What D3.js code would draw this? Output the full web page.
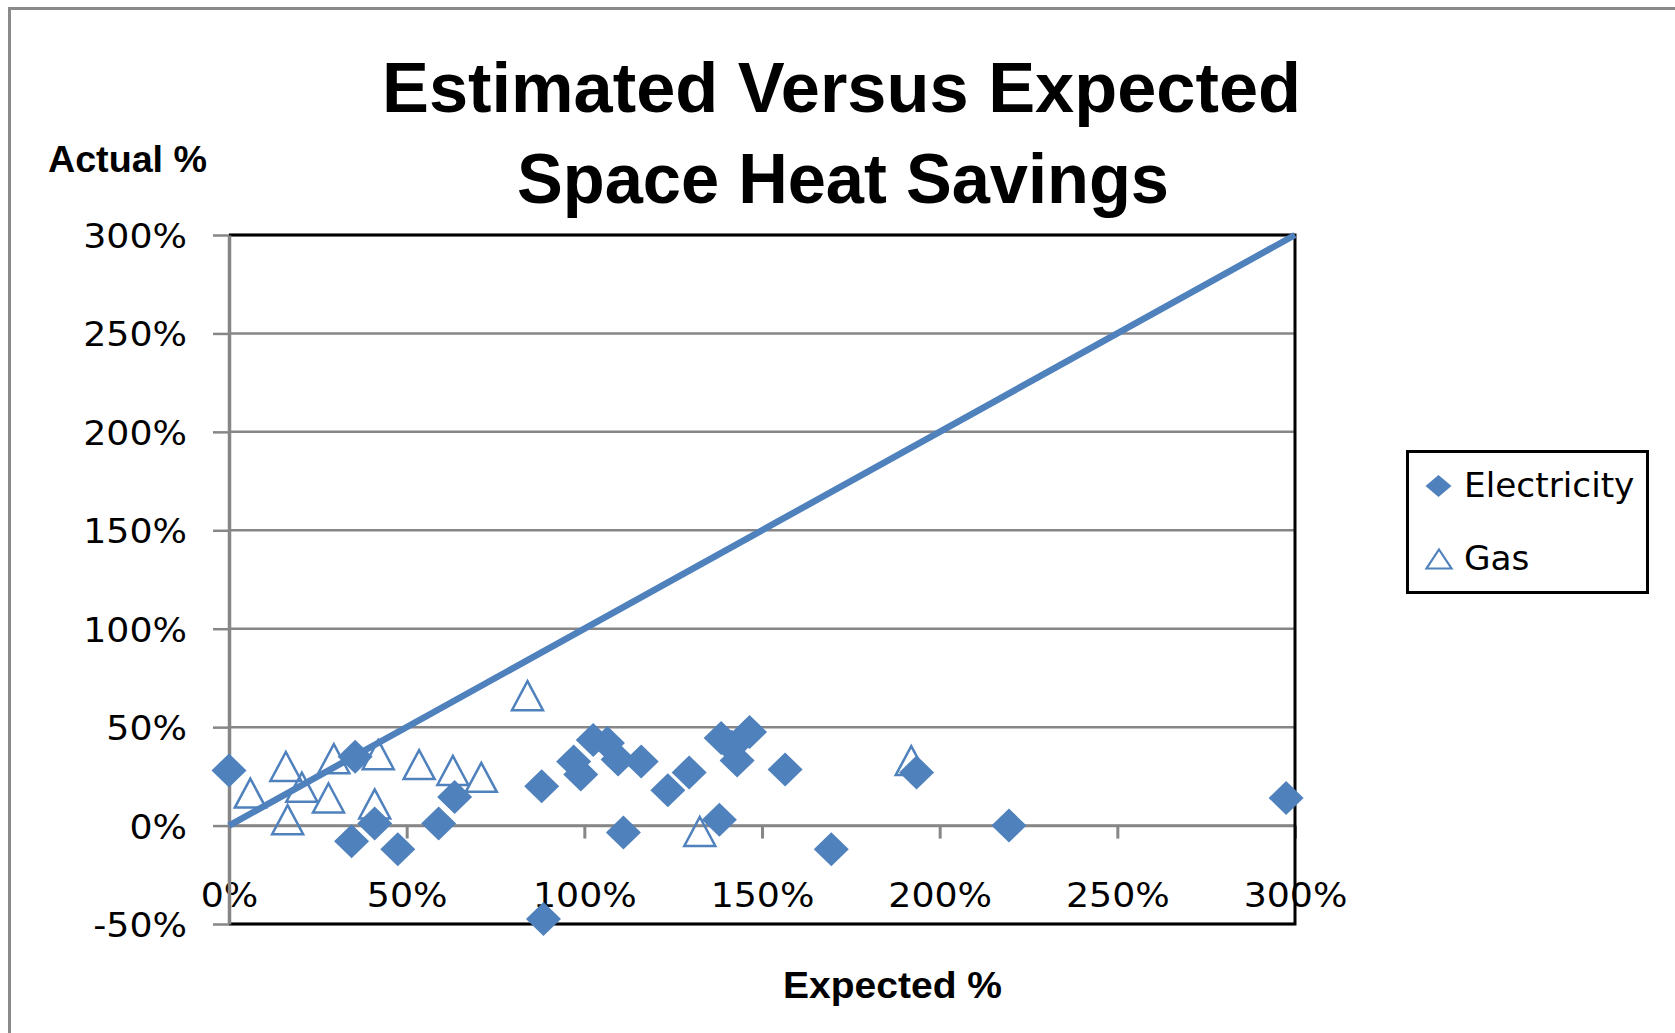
<!DOCTYPE html>
<html><head><meta charset="utf-8">
<script src="https://cdn.jsdelivr.net/npm/d3@7"></script>
<style>body{margin:0;background:#fff}svg{display:block}</style>
</head><body>
<script>
// ---- data ----
const titleLines = ["Estimated Versus Expected", "Space Heat Savings"];
const yTicks = [-50, 0, 50, 100, 150, 200, 250, 300];
const xTicks = [0, 50, 100, 150, 200, 250, 300];
const seriesNames = ["Electricity", "Gas"];
const elecX = [0, 35.5, 34.5, 41, 47.5, 59, 63.5, 88, 88.5, 97, 99, 102.5, 106.5, 109.5, 116, 111, 123.5, 129.5, 138, 138.5, 141.5, 143, 146.5, 156.5, 169.5, 193.5, 219.5, 297.5];
const elecY = [28, 35, -8, 1, -12, 1, 14.5, 20, -47.5, 32.5, 26, 43.5, 42, 33.5, 32.5, -3.5, 18, 27, 3, 44.5, 40, 33, 47.5, 28.5, -12, 27, 0, 14];
const gasX = [6, 16, 16.5, 20.5, 28, 29.5, 42, 41, 53.5, 63, 71, 84, 132.5, 192];
const gasY = [16.5, 30, 3, 19.5, 14, 34, 36, 11, 31, 28, 24.5, 66, -3, 33];
const refX = [0, 300];
const refY = [0, 300];

// ---- setup ----
const W = 1675, H = 1033;
const blue = "#4F81BD", gray = "#868686";
const svg = d3.select("body").append("svg").attr("width", W).attr("height", H);
svg.append("rect").attr("width", W).attr("height", H).attr("fill", "#fff");

const x = d3.scaleLinear().domain([0, 300]).range([229, 1295]);
const y = d3.scaleLinear().domain([-50, 300]).range([924, 235]);

// outer chart border (top + left visible)
svg.append("path").attr("d", `M9.5,${H} V8.5 H${W}`).attr("fill", "none")
  .attr("stroke", "#8a8a8a").attr("stroke-width", 3);

// titles
const titleY = [112, 203], titleLen = [919, 652], titleCx = [841.5, 843];
titleLines.forEach((t, i) => {
  svg.append("text").attr("x", titleCx[i]).attr("y", titleY[i])
    .attr("text-anchor", "middle")
    .attr("font-family", "'Liberation Sans', Arial, sans-serif")
    .attr("font-weight", "bold").attr("font-size", 70)
    .attr("textLength", titleLen[i]).attr("lengthAdjust", "spacingAndGlyphs")
    .text(t);
});

// axis titles
svg.append("text").attr("x", 48).attr("y", 172)
  .attr("font-family", "'Liberation Sans', Arial, sans-serif")
  .attr("font-weight", "bold").attr("font-size", 36)
  .attr("textLength", 159).attr("lengthAdjust", "spacingAndGlyphs")
  .text("Actual %");
svg.append("text").attr("x", 783).attr("y", 998)
  .attr("font-family", "'Liberation Sans', Arial, sans-serif")
  .attr("font-weight", "bold").attr("font-size", 36)
  .attr("textLength", 219).attr("lengthAdjust", "spacingAndGlyphs")
  .text("Expected %");

// gridlines
svg.append("g").selectAll("line").data(yTicks).join("line")
  .attr("x1", x(0)).attr("x2", x(300))
  .attr("y1", d => y(d)).attr("y2", d => y(d))
  .attr("stroke", gray).attr("stroke-width", 2.5);

const fmt = d => d + "%";
const sx = 1.1;

// x axis (crossing at 0)
const gx = svg.append("g").attr("transform", `translate(0,${y(0)})`)
  .call(d3.axisBottom(x).tickValues(xTicks).tickSize(13).tickSizeOuter(0).tickFormat(fmt));
gx.select(".domain").attr("stroke", gray).attr("stroke-width", 2.5);
gx.selectAll(".tick line").attr("stroke", gray).attr("stroke-width", 3);
gx.selectAll(".tick text").attr("y", 907 - y(0)).attr("dy", 0)
  .attr("font-family", "'DejaVu Sans', Verdana, sans-serif").attr("font-size", 33)
  .attr("fill", "#000").attr("transform", `scale(${sx},1)`);

// black plot frame (top, right, bottom)
svg.append("path")
  .attr("d", `M${x(0)},${y(300)} H${x(300)} V${y(-50)} H${x(0)}`)
  .attr("fill", "none").attr("stroke", "#000").attr("stroke-width", 3);

// y axis
const gy = svg.append("g").attr("transform", `translate(${x(0)},0)`)
  .call(d3.axisLeft(y).tickValues(yTicks).tickSize(16).tickSizeOuter(0).tickFormat(fmt));
gy.select(".domain").attr("stroke", gray).attr("stroke-width", 3.5);
gy.selectAll(".tick line").attr("stroke", gray).attr("stroke-width", 2.5);
gy.selectAll(".tick text").attr("x", (187 - x(0)) / sx).attr("dy", 12.5)
  .attr("font-family", "'DejaVu Sans', Verdana, sans-serif").attr("font-size", 33)
  .attr("fill", "#000").attr("transform", `scale(${sx},1)`);

// shapes
const triPath = (w, h) => `M0,${-h / 2} L${w / 2},${h / 2} L${-w / 2},${h / 2} Z`;
const diaPath = (a, b) => `M0,${-b} L${a},0 L0,${b} L${-a},0 Z`;

// Gas triangles
const gas = gasX.map((v, i) => ({ x: v, y: gasY[i] }));
svg.append("g").selectAll("path").data(gas).join("path")
  .attr("d", triPath(31, 29))
  .attr("transform", d => `translate(${x(d.x)},${y(d.y)})`)
  .attr("fill", "none").attr("stroke", blue).attr("stroke-width", 2.5)
  .attr("stroke-linejoin", "miter");

// reference line y = x
svg.append("path")
  .datum(refX.map((v, i) => [v, refY[i]]))
  .attr("d", d3.line().x(d => x(d[0])).y(d => y(d[1])))
  .attr("fill", "none").attr("stroke", blue).attr("stroke-width", 6.5);

// Electricity diamonds
const elec = elecX.map((v, i) => ({ x: v, y: elecY[i] }));
svg.append("g").selectAll("path").data(elec).join("path")
  .attr("d", diaPath(17.5, 17))
  .attr("transform", d => `translate(${x(d.x)},${y(d.y)})`)
  .attr("fill", blue);

// legend
const lg = svg.append("g");
lg.append("rect").attr("x", 1407.5).attr("y", 451.5).attr("width", 240).attr("height", 141)
  .attr("fill", "#fff").attr("stroke", "#000").attr("stroke-width", 3);
lg.append("path").attr("d", diaPath(13, 11)).attr("transform", "translate(1438.5,486)").attr("fill", blue);
lg.append("path").attr("d", triPath(25, 19)).attr("transform", "translate(1439,559)")
  .attr("fill", "none").attr("stroke", blue).attr("stroke-width", 2.2);
const legY = [497, 569.5];
seriesNames.forEach((n, i) => {
  lg.append("text").attr("transform", `translate(1464,${legY[i]}) scale(1.04,1)`)
    .attr("font-family", "'DejaVu Sans', Verdana, sans-serif").attr("font-size", 33)
    .attr("fill", "#000").text(n);
});
</script>
</body></html>
